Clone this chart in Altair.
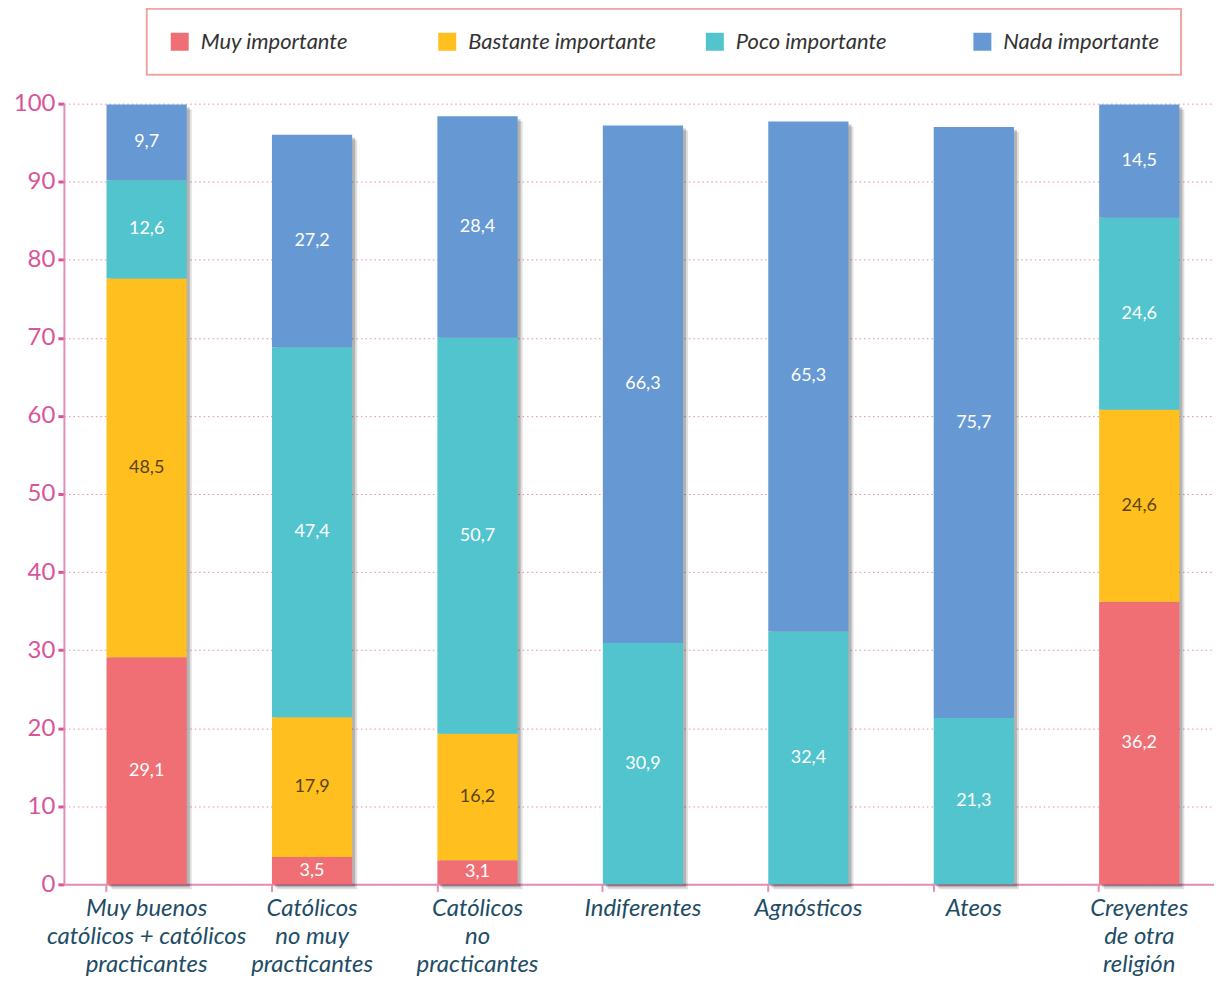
import altair as alt
import pandas as pd

categories = [
    "Muy buenos|católicos + católicos|practicantes",
    "Católicos|no muy|practicantes",
    "Católicos|no|practicantes",
    "Indiferentes",
    "Agnósticos",
    "Ateos",
    "Creyentes|de otra|religión",
]
series = ["Muy importante", "Bastante importante", "Poco importante", "Nada importante"]
muy = [29.1, 3.5, 3.1, 0, 0, 0, 36.2]
bastante = [48.5, 17.9, 16.2, 0, 0, 0, 24.6]
poco = [12.6, 47.4, 50.7, 30.9, 32.4, 21.3, 24.6]
nada = [9.7, 27.2, 28.4, 66.3, 65.3, 75.7, 14.5]
y_ticks = [0, 10, 20, 30, 40, 50, 60, 70, 80, 90, 100]

colors = ["#F06F75", "#FEBF1F", "#52C4CE", "#6699D3"]
label_colors = ["#FFFFFF", "#5A4510", "#FFFFFF", "#FFFFFF"]

rows = []
for si, (s, vals) in enumerate(zip(series, [muy, bastante, poco, nada])):
    for c, v in zip(categories, vals):
        if v > 0:
            rows.append({"cat": c, "series": s, "sidx": si, "value": v})
df = pd.DataFrame(rows)

FONT = "Lato"
PINK = "#D9559A"
PINK_LINE = "#E38CB5"

base = alt.Chart(df).transform_stack(
    stack="value", groupby=["cat"], sort=[alt.SortField("sidx", order="ascending")], as_=["y0", "y1"]
).transform_calculate(
    mid="(datum.y0 + datum.y1) / 2",
    label="replace(format(datum.value, '.1f'), '.', ',')",
)

xenc = alt.X(
    "cat:N",
    sort=categories,
    scale=alt.Scale(paddingInner=0.515, paddingOuter=0.2575),
    axis=alt.Axis(
        title=None,
        labelExpr="split(datum.label, '|')",
        labelAngle=0,
        labelFont=FONT,
        labelFontSize=24,
        labelFontStyle="italic",
        labelColor="#1E4D66",
        labelLineHeight=28,
        labelPadding=5,
        labelLimit=400,
        bandPosition=0,
        ticks=True,
        tickColor=PINK_LINE,
        tickSize=7,
        tickWidth=2,
        domainColor=PINK_LINE,
        domainWidth=2,
        grid=False,
    ),
)
yscale = alt.Scale(domain=[0, 100], nice=False)
yaxis = alt.Axis(
    title=None,
    values=y_ticks,
    labelFont=FONT,
    labelFontSize=24,
    labelColor=PINK,
    labelPadding=3,
    tickColor=PINK,
    tickSize=6,
    tickWidth=3,
    domainColor=PINK_LINE,
    domainWidth=2,
    grid=True,
    gridColor="#E58AB5",
    gridDash=[1.5, 3],
    gridWidth=1,
)

shadow1 = base.mark_bar(color="#000000", opacity=0.12, xOffset=5, yOffset=5, y2Offset=5).encode(
    x=xenc, y=alt.Y("y0:Q", scale=yscale, axis=yaxis), y2="y1:Q"
)
shadow2 = base.mark_bar(color="#000000", opacity=0.2, xOffset=3, yOffset=3, y2Offset=3).encode(
    x=xenc, y=alt.Y("y0:Q", scale=yscale, axis=yaxis), y2="y1:Q"
)

bars = base.mark_bar(strokeWidth=0).encode(
    x=xenc,
    y=alt.Y("y0:Q", scale=yscale, axis=yaxis),
    y2="y1:Q",
    color=alt.Color(
        "series:N",
        sort=series,
        scale=alt.Scale(domain=series, range=colors),
        legend=alt.Legend(
            title=None,
            orient="none",
            legendX=83,
            legendY=-95,
            direction="horizontal",
            columns=4,
            gridAlign="all",
            columnPadding=47,
            padding=22,
            symbolType="square",
            symbolSize=324,
            symbolStrokeWidth=0,
            labelOffset=10,
            labelLimit=400,
            labelFont=FONT,
            labelFontSize=22,
            labelFontStyle="italic",
            labelColor="#333333",
            strokeColor="#F2A3A3",
            fillColor="#FFFFFF",
        ),
    ),
)

texts = base.mark_text(font=FONT, fontSize=18, baseline="middle").encode(
    x=xenc,
    y=alt.Y("mid:Q", scale=yscale, axis=yaxis),
    text="label:N",
    color=alt.Color("series:N", scale=alt.Scale(domain=series, range=label_colors), legend=None),
)

chart = (
    alt.layer(shadow1, shadow2, bars, texts)
    .resolve_scale(color="independent")
    .properties(
        width=1160,
        height=782,
        autosize=alt.AutoSizeParams(type="none"),
        padding={"left": 56, "top": 95, "right": -8, "bottom": 93},
        background="#FFFFFF",
    )
    .configure_view(stroke=None)
    .configure_legend(strokeWidth=2)
)

chart.save("out.html", embed_options={"renderer": "svg", "actions": False})
